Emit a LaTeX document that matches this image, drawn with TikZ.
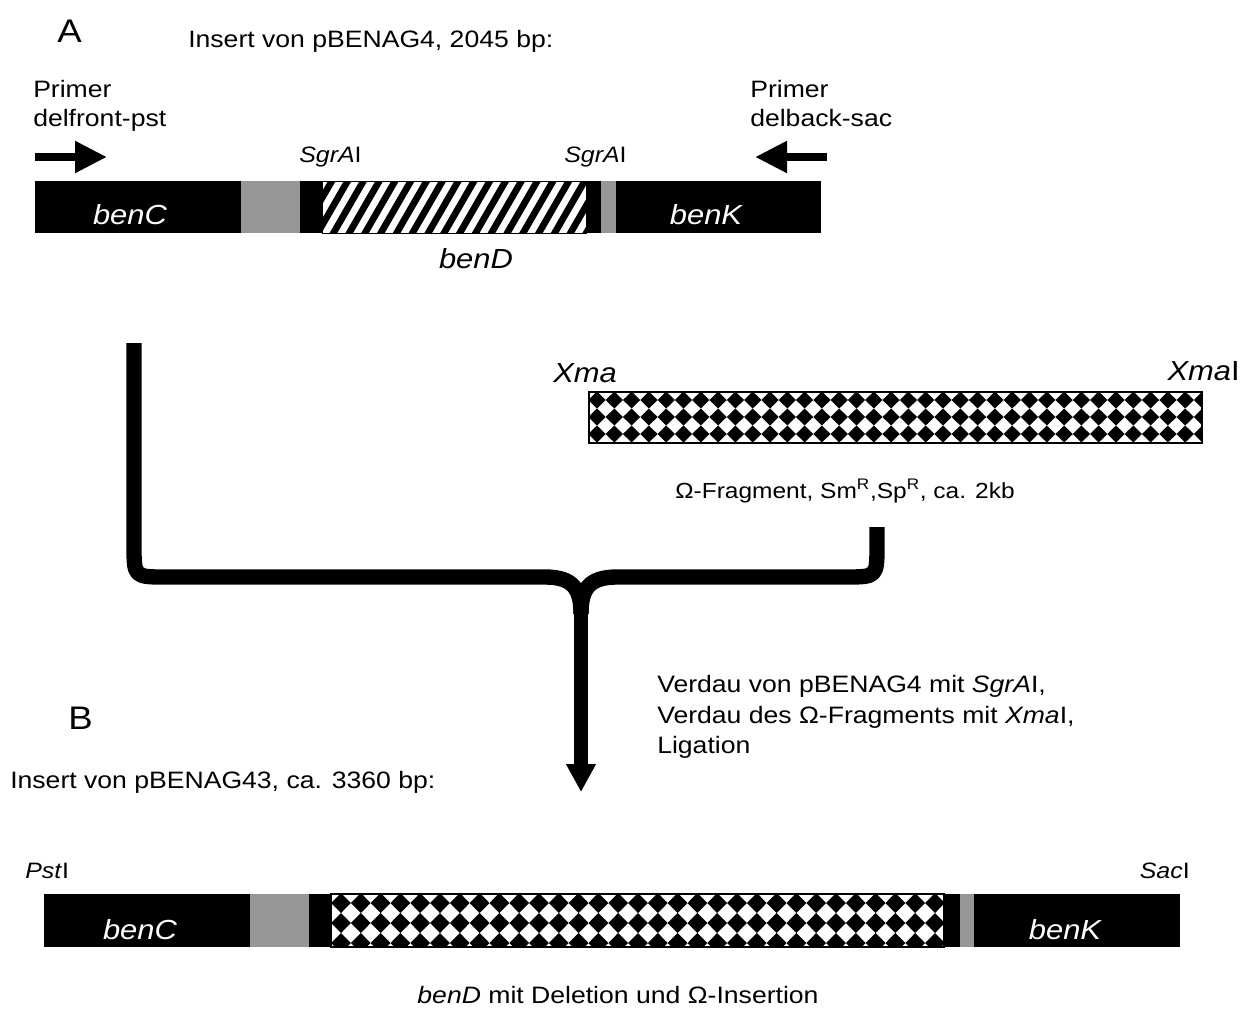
\documentclass[tikz,border=0pt]{standalone}
\usepackage{fontspec}
\setmainfont{Liberation Sans}[FakeStretch=1.12]
\usetikzlibrary{arrows.meta}
\definecolor{bargray}{RGB}{150,150,150}
\tikzset{
  txt/.style={font=\fontsize{17.8}{21}\selectfont, inner sep=0pt},
  smalltxt/.style={font=\fontsize{16.4}{20}\selectfont, inner sep=0pt},
  gene/.style={font=\fontsize{20.7}{24}\selectfont\itshape, text=white, inner sep=0pt},
  genelbl/.style={font=\fontsize{20.7}{24}\selectfont\itshape, inner sep=0pt},
  biglbl/.style={font=\fontsize{24.5}{28}\selectfont, inner sep=0pt},
  site/.style={font=\fontsize{16.7}{20}\selectfont, inner sep=0pt},
  brace/.style={line width=11.5pt, line join=round},
  primerarrow/.style={line width=6pt, -{Triangle[length=24pt, width=22.5pt]}},
  downarrow/.style={line width=10pt, -{Triangle[length=21pt, width=21pt]}},
}
\begin{document}
\begin{tikzpicture}[x=0.75pt,y=-0.75pt]
\useasboundingbox (0,0) rectangle (1246,1008);

% ---------- Part A ----------
\node[biglbl, anchor=base west] (lblA) at (57,42) {A};
\node[txt, anchor=base west] (titleA) at (188,47) {Insert von pBENAG4, 2045 bp:};
\node[txt, anchor=base west] (p1a) at (33,97) {Primer};
\node[txt, anchor=base west] (p1b) at (33,126) {delfront-pst};
\node[txt, anchor=base west] (p2a) at (750,97) {Primer};
\node[txt, anchor=base west] (p2b) at (750,126) {delback-sac};
\coordinate (fa) at (35,157);
\coordinate (fb) at (107,157);
\coordinate (ba) at (827,157);
\coordinate (bb) at (755,157);
\draw[primerarrow] (fa) -- (fb);
\draw[primerarrow] (ba) -- (bb);
\node[site, anchor=base west] (sg1) at (299,162) {\textit{SgrA}I};
\node[site, anchor=base west] (sg2) at (564,162) {\textit{SgrA}I};

% top bar
\fill[black] (35,181) rectangle (241,233);
\fill[bargray] (241,181) rectangle (300,233);
\fill[black] (300,181) rectangle (322,233);
\fill[white] (322,181) rectangle (586,233);
\begin{scope}
  \clip (322,181) rectangle (586,233);
  \foreach \k in {0,...,22}
    \draw[line width=5pt] ({282+\k*15.8},240) -- ({282+\k*15.8+38.1},174);
\end{scope}
\draw[line width=0.75pt] (322,181) rectangle (586,233);
\fill[black] (586,181) rectangle (601,233);
\fill[bargray] (601,181) rectangle (616,233);
\fill[black] (616,181) rectangle (821,233);
\node[gene, anchor=base] (benC1) at (130,224) {benC};
\node[gene, anchor=base] (benK1) at (706,224) {benK};
\node[genelbl, anchor=base] (benD1) at (476,268) {benD};

% ---------- Omega fragment ----------
\node[genelbl, anchor=base west] (xma1) at (553,382) {Xma};
\node[genelbl, anchor=base east] (xma2) at (1240,380) {Xma\upshape I};
\fill[white] (589,392) rectangle (1202,443);
\begin{scope}
  \clip (589,392) rectangle (1202,443);
  \foreach \i in {-1,...,36}
    \foreach \j in {0,1,2}
      \fill ({597+\i*17.3},{400+\j*17}) +(-8.65,0) -- +(0,-8.5) -- +(8.65,0) -- +(0,8.5) -- cycle;
\end{scope}
\draw[line width=1pt] (589,392) rectangle (1202,443);
\node[smalltxt, anchor=base] (omegatxt) at (845,498) {Ω-Fragment, Sm\textsuperscript{R},Sp\textsuperscript{R}, ca. 2kb};

% ---------- bracket and arrow ----------
\coordinate (lt) at (134,343);
\coordinate (rt) at (877,527);
\coordinate (cusp) at (581,614);
\coordinate (tip) at (581,792);
\draw[brace] (lt) -- (134,545) .. controls (134,577) .. (166,577) -- (545,577)
   .. controls (574,577) and (581,590) .. (cusp);
\draw[brace] (rt) -- (877,545) .. controls (877,577) .. (845,577) -- (617,577)
   .. controls (588,577) and (581,590) .. (cusp);
\draw[downarrow] (581,600) -- (tip);

\node[txt, anchor=base west] (v1) at (657,692) {Verdau von pBENAG4 mit \textit{SgrA}I,};
\node[txt, anchor=base west] (v2) at (657,723) {Verdau des Ω-Fragments mit \textit{Xma}I,};
\node[txt, anchor=base west] (v3) at (657,753) {Ligation};

% ---------- Part B ----------
\node[biglbl, anchor=base west] (lblB) at (68,729) {B};
\node[txt, anchor=base west] (titleB) at (10,788) {Insert von pBENAG43, ca. 3360 bp:};
\node[site, anchor=base west] (pst) at (25,878) {\textit{Pst}I};
\node[site, anchor=base east] (sac) at (1190,878) {\textit{Sac}I};

\fill[black] (44,894) rectangle (250,947);
\fill[bargray] (250,894) rectangle (309,947);
\fill[black] (309,894) rectangle (331,947);
\fill[white] (331,894) rectangle (944,947);
\begin{scope}
  \clip (331,894) rectangle (944,947);
  \foreach \i in {-1,...,31}
    \foreach \j in {0,1,2}
      \fill ({341+\i*19.8},{903+\j*20}) +(-9.9,0) -- +(0,-10) -- +(9.9,0) -- +(0,10) -- cycle;
\end{scope}
\draw[line width=1pt] (331,894) rectangle (944,947);
\fill[black] (944,894) rectangle (960,947);
\fill[bargray] (960,894) rectangle (974,947);
\fill[black] (974,894) rectangle (1180,947);
\node[gene, anchor=base] (benC2) at (140,939) {benC};
\node[gene, anchor=base] (benK2) at (1065,939) {benK};
\node[txt, anchor=base] (benD2) at (618,1003) {\textit{benD} mit Deletion und Ω-Insertion};
\end{tikzpicture}
\end{document}
